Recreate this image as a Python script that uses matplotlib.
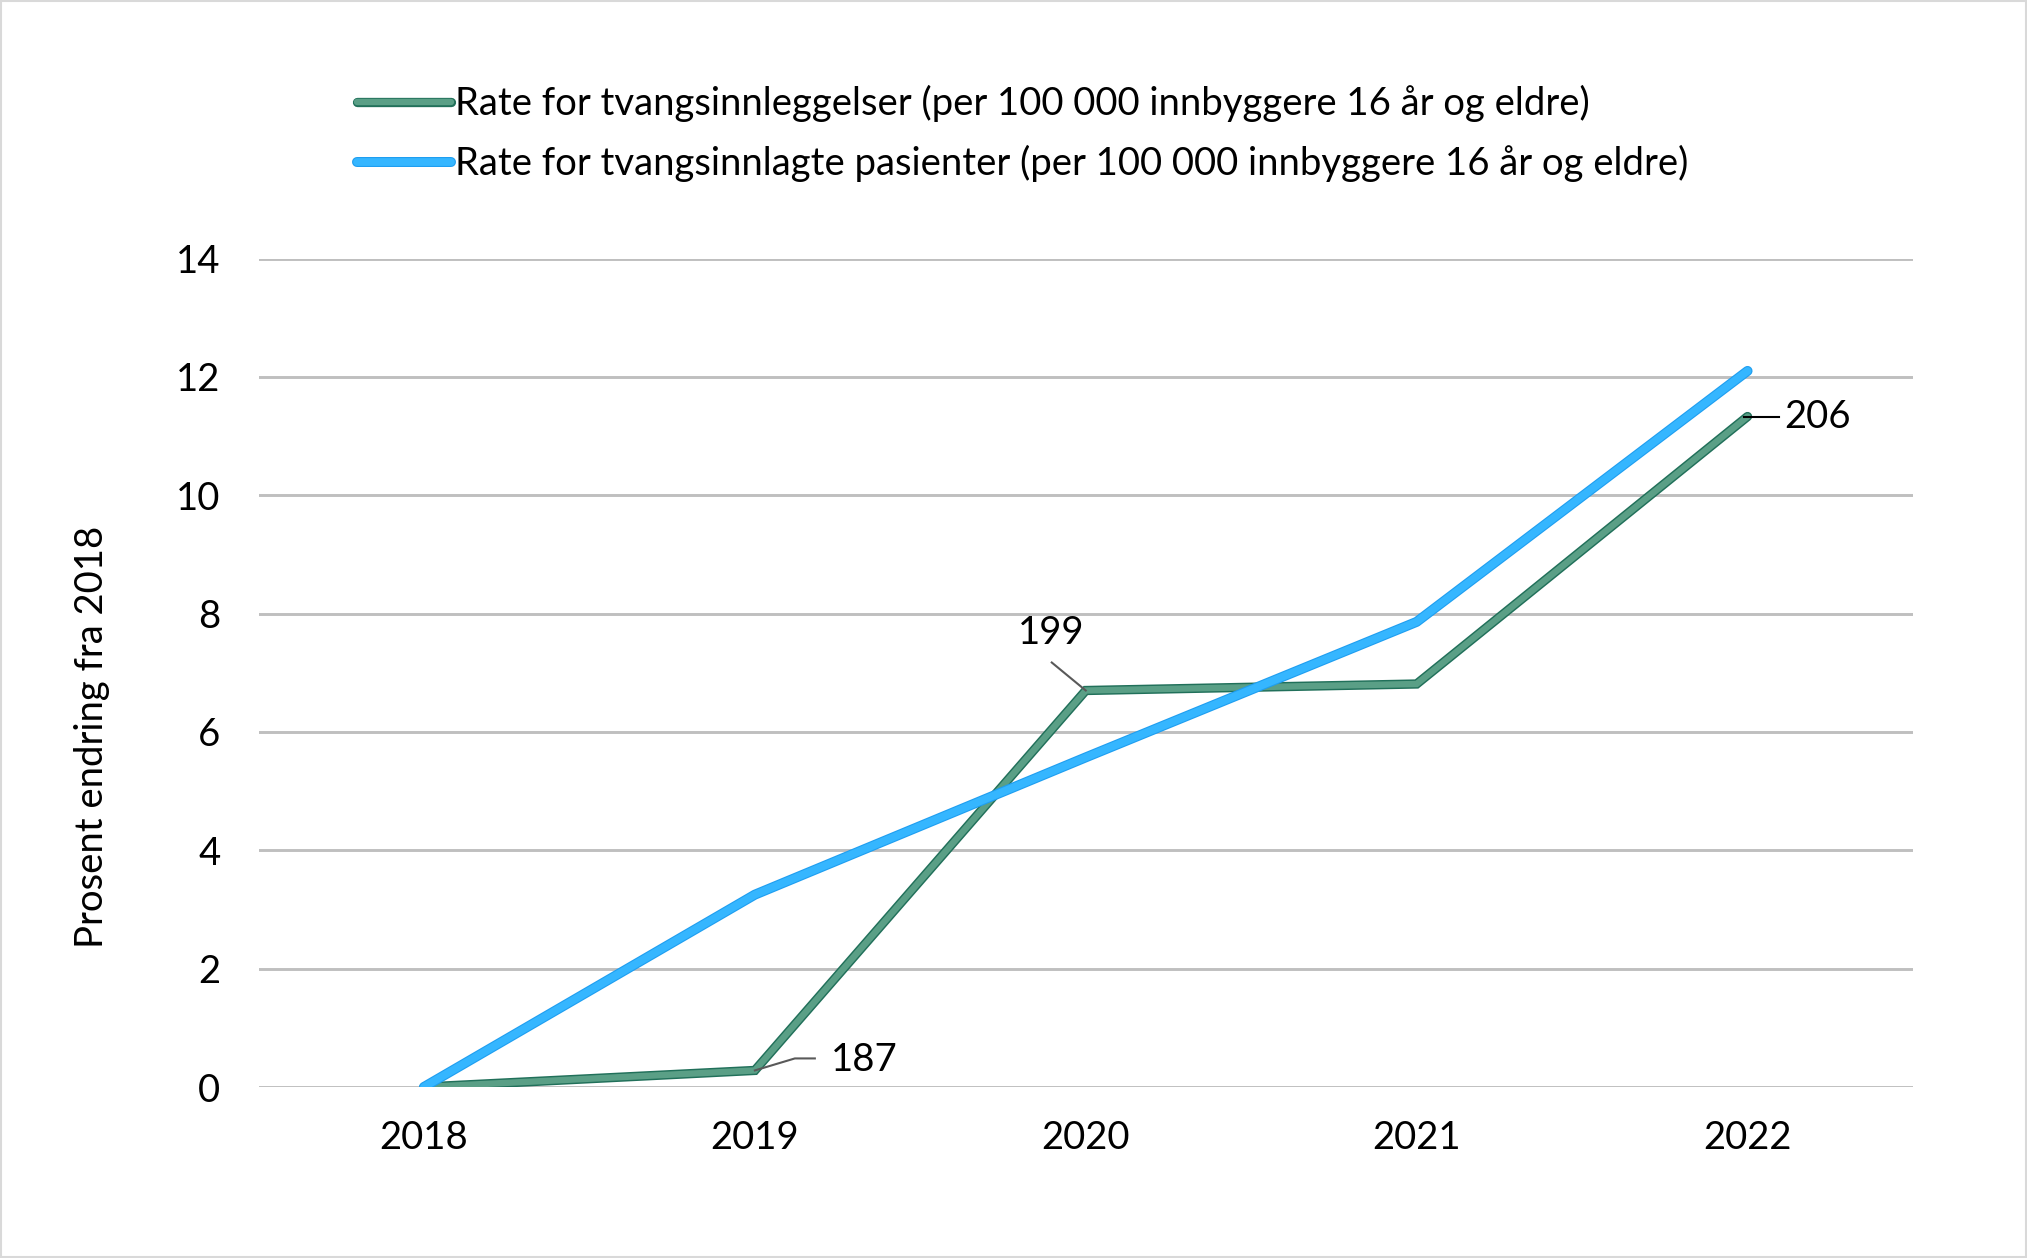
import matplotlib
matplotlib.use("Agg")
import matplotlib.pyplot as plt
import matplotlib.patheffects as pe
from matplotlib.patches import Rectangle

YEARS = ["2018", "2019", "2020", "2021", "2022"]
INNLEGGELSER = [0.0, 0.28, 6.70, 6.81, 11.33]
PASIENTER = [0.0, 3.25, 5.57, 7.86, 12.10]
LABEL_YEARS = [1, 2, 4]
LABEL_TEXT = ["187", "199", "206"]
YTICKS = [0, 2, 4, 6, 8, 10, 12, 14]

SERIES_NAMES = [
    "Rate for tvangsinnleggelser (per 100 000 innbyggere 16 år og eldre)",
    "Rate for tvangsinnlagte pasienter (per 100 000 innbyggere 16 år og eldre)",
]

W, H = 2027, 1258
FS = 27.5
plt.rcParams["font.family"] = ["Lato", "DejaVu Sans"]

fig = plt.figure(figsize=(W / 100, H / 100), dpi=100)
fig.patch.set_facecolor("white")
fig.add_artist(Rectangle((0.0005, 0.0008), 0.999, 0.9984, transform=fig.transFigure,
                         fill=False, edgecolor="#d9d9d9", linewidth=1.5))

ax = fig.add_axes([258.5 / W, 1 - 1087 / H, (1913 - 258.5) / W, (1087 - 258.5) / H])
ax.set_xlim(-0.5, 4.5)
ax.set_ylim(0, 14)
x = list(range(len(YEARS)))

green, = ax.plot(x, INNLEGGELSER, color="#5a9f86", lw=4.6, solid_capstyle="round",
                 solid_joinstyle="miter", zorder=3,
                 path_effects=[pe.Stroke(linewidth=6.7, foreground="#21705a"), pe.Normal()])
blue, = ax.plot(x, PASIENTER, color="#35b6ff", lw=5.6, solid_capstyle="round",
                solid_joinstyle="round", zorder=4,
                path_effects=[pe.Stroke(linewidth=7.2, foreground="#1f9ef0"), pe.Normal()])

ax.set_yticks(YTICKS)
ax.set_xticks(x)
ax.set_xticklabels(YEARS)
ax.tick_params(length=0, labelsize=FS, colors="#000000")
ax.tick_params(axis="y", pad=27.5)
ax.tick_params(axis="x", pad=24)
ax.grid(axis="y", color="#bfbfbf", lw=2.1)
ax.set_axisbelow(True)
for s in ax.spines.values():
    s.set_visible(False)
fig.text(92 / W, 1 - 737 / H, "Prosent endring fra 2018", fontsize=FS, rotation=90,
         ha="center", va="center")

# leader lines for data labels (pixel offsets from the point)
leaders = [
    [(0, 0), (40, 12), (60, 12)],
    [(0, 0), (-34, 28)],
    [(-4, 0), (31, 0)],
]
text_offsets = [(76, 10), (-35, 58), (37, 0)]
text_ha = ["left", "center", "left"]
leader_colors = ["#595959", "#595959", "#000000"]
inv = ax.transData.inverted()
for i, yi in enumerate(LABEL_YEARS):
    px, py = ax.transData.transform((yi, INNLEGGELSER[yi]))
    pts = [inv.transform((px + dx, py + dy)) for dx, dy in leaders[i]]
    ax.plot([p[0] for p in pts], [p[1] for p in pts], color=leader_colors[i], lw=1.5,
            zorder=5, clip_on=False)
    tx, ty = inv.transform((px + text_offsets[i][0], py + text_offsets[i][1]))
    ax.text(tx, ty, LABEL_TEXT[i], fontsize=FS, ha=text_ha[i], va="center", zorder=6)

leg = fig.legend([green, blue], SERIES_NAMES, loc="upper left",
                 bbox_to_anchor=(357 / W, 1 - 85 / H), frameon=False, fontsize=FS,
                 handlelength=2.45, handletextpad=0.12, labelspacing=0.6,
                 borderpad=0, borderaxespad=0)

fig.savefig("out.png", dpi=100)
